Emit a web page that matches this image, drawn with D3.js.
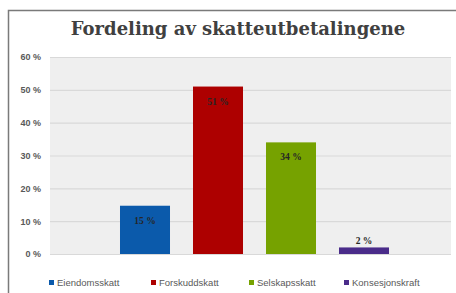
<!DOCTYPE html>
<html>
<head>
<meta charset="utf-8">
<script src="https://cdn.jsdelivr.net/npm/d3@7"></script>
<style>
  html, body { margin: 0; padding: 0; background: #fff; }
  svg { display: block; }
</style>
</head>
<body>
<div id="chart"></div>
<script>
var title = "Fordeling av skatteutbetalingene";
var series = ["Eiendomsskatt", "Forskuddskatt", "Selskapsskatt", "Konsesjonskraft"];
var values = [0.147, 0.51, 0.34, 0.02];
var colors = ["#0b5aab", "#ad0000", "#76a200", "#4a2c8a"];
var yTicks = [0, 0.1, 0.2, 0.3, 0.4, 0.5, 0.6];

var W = 456, H = 293;
var plot = { left: 50, right: 451, top: 57, bottom: 254 };

var svg = d3.select("#chart").append("svg")
    .attr("width", W)
    .attr("height", H);

// outer frame (right/bottom edges fall outside the picture)
svg.append("rect")
    .attr("x", 8.5).attr("y", 10.5)
    .attr("width", W + 10).attr("height", H + 10)
    .attr("fill", "#fff")
    .attr("stroke", "#7a7a7a")
    .attr("stroke-width", 1.5);

svg.append("text")
    .attr("x", 238)
    .attr("y", 35)
    .attr("text-anchor", "middle")
    .attr("font-family", "'DejaVu Serif', 'Liberation Serif', serif")
    .attr("font-weight", "bold")
    .attr("font-size", 18)
    .attr("fill", "#404040")
    .text(title);

var y = d3.scaleLinear()
    .domain([0, 0.6])
    .range([plot.bottom, plot.top]);

var x = d3.scaleBand()
    .domain(series)
    .range([108.5, 400.5])
    .paddingInner(0.315)
    .paddingOuter(0.1575);

// plot area background
svg.append("rect")
    .attr("x", plot.left).attr("y", plot.top)
    .attr("width", plot.right - plot.left)
    .attr("height", plot.bottom - plot.top + 1)
    .attr("fill", "#efefef");

// y axis: gridlines + labels
var yAxis = svg.append("g")
    .attr("transform", "translate(" + plot.left + ",0)")
    .call(d3.axisLeft(y)
        .tickValues(yTicks)
        .tickSize(-(plot.right - plot.left))
        .tickPadding(9)
        .tickFormat(function(d) { return Math.round(d * 100) + " %"; }));

yAxis.select(".domain").remove();
yAxis.selectAll(".tick line")
    .attr("stroke", "#d9d9d9")
    .attr("stroke-width", 1.2);
yAxis.selectAll(".tick text")
    .attr("fill", "#595959")
    .attr("font-family", "'Liberation Sans', Arial, sans-serif")
    .attr("font-weight", "bold")
    .attr("font-size", 9);

// bars
svg.selectAll(".bar")
    .data(values)
    .enter().append("rect")
        .attr("class", "bar")
        .attr("x", function(d, i) { return x(series[i]); })
        .attr("y", function(d) { return y(d); })
        .attr("width", x.bandwidth())
        .attr("height", function(d) { return y(0) - y(d); })
        .attr("fill", function(d, i) { return colors[i]; });

// data labels
svg.selectAll(".lbl")
    .data(values)
    .enter().append("text")
        .attr("class", "lbl")
        .attr("x", function(d, i) { return x(series[i]) + x.bandwidth() / 2; })
        .attr("y", function(d) {
            var h = y(0) - y(d);
            return h > 20 ? y(d) + 18 : y(d) - 3;
        })
        .attr("text-anchor", "middle")
        .attr("font-family", "'Liberation Serif', 'DejaVu Serif', serif")
        .attr("font-weight", "bold")
        .attr("font-size", 9.5)
        .attr("fill", "#262626")
        .text(function(d) { return Math.round(d * 100) + " %"; });

// legend
var legendX = [49, 151, 249, 344];
var legend = svg.selectAll(".legend")
    .data(series)
    .enter().append("g")
        .attr("class", "legend")
        .attr("transform", function(d, i) { return "translate(" + legendX[i] + ",283)"; });

legend.append("rect")
    .attr("x", 0).attr("y", -3)
    .attr("width", 5).attr("height", 5)
    .attr("fill", function(d, i) { return colors[i]; });

legend.append("text")
    .attr("x", 8)
    .attr("y", 3)
    .attr("font-family", "'Liberation Sans', Arial, sans-serif")
    .attr("font-size", 9.5)
    .attr("fill", "#595959")
    .text(function(d) { return d; });
</script>
</body>
</html>
